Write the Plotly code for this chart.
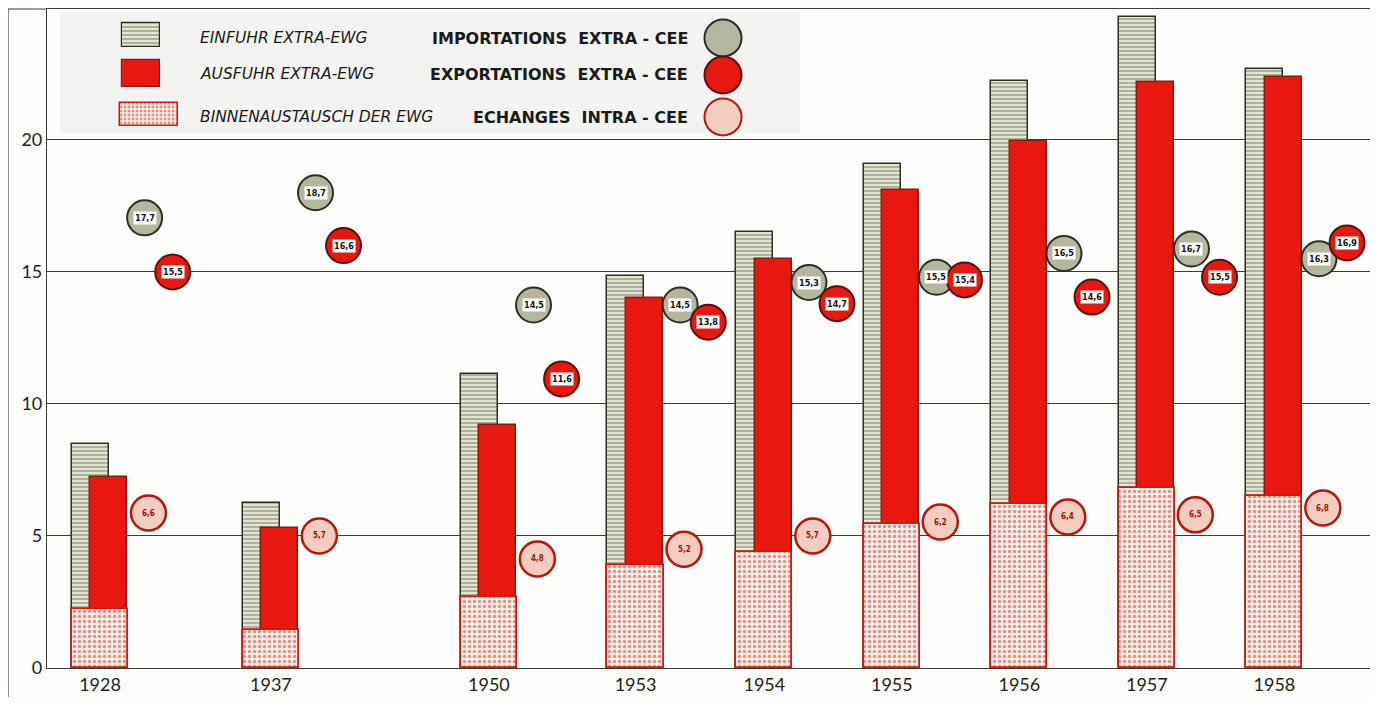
import plotly.graph_objects as go

# values (Mrd $ and % of world trade)
years = ["1928", "1937", "1950", "1953", "1954", "1955", "1956", "1957", "1958"]
imports_bn = [8.5, 6.25, 11.15, 14.85, 16.5, 19.1, 22.25, 24.65, 22.7]
exports_bn = [7.25, 5.3, 9.2, 14.0, 15.5, 18.1, 19.95, 22.2, 22.4]
intra_bn = [2.25, 1.45, 2.7, 3.9, 4.4, 5.45, 6.2, 6.8, 6.5]

imp_share = ["17,7", "18,7", "14,5", "14,5", "15,3", "15,5", "16,5", "16,7", "16,3"]
exp_share = ["15,5", "16,6", "11,6", "13,8", "14,7", "15,4", "14,6", "15,5", "16,9"]
intra_share = ["6,6", "5,7", "4,8", "5,2", "5,7", "6,2", "6,4", "6,5", "6,8"]

# where the share circles sit on the value axis
imp_circle = [17.05, 18.0, 13.75, 13.75, 14.6, 14.8, 15.7, 15.87, 15.5]
exp_circle = [15.0, 16.0, 10.95, 13.1, 13.8, 14.7, 14.05, 14.8, 16.1]
intra_circle = [5.87, 5.0, 4.13, 4.5, 5.0, 5.53, 5.72, 5.8, 6.06]

# uneven spacing of the year groups along the axis
slot = [0, 1.34, 3.05, 4.2, 5.21, 6.21, 7.21, 8.21, 9.21]

RED = "#e8170f"
DARK = "#2e2e22"
GRID = "#3d3d2c"
HATCH_BG = "#e4e6d2"
STIP_BG = "#fdf3ee"
STIP_DOT = "#d62a18"
LBL_FONT = "DejaVu Sans Condensed, DejaVu Sans"

fig = go.Figure()

# import bars (hatched), export bars (red), intra trade on top (stippled)
fig.add_trace(go.Bar(
    x=slot, y=imports_bn, width=0.29, offset=-0.22,
    marker=dict(color=HATCH_BG, line=dict(color=DARK, width=1.5),
                pattern=dict(shape="-", fgcolor=DARK, bgcolor=HATCH_BG, size=4, solidity=0.3)),
    showlegend=False, hoverinfo="skip"))
fig.add_trace(go.Bar(
    x=slot, y=exports_bn, width=0.29, offset=-0.075,
    marker=dict(color=RED, line=dict(color="#8a1a10", width=1.5)),
    showlegend=False, hoverinfo="skip"))
fig.add_trace(go.Bar(
    x=slot, y=intra_bn, width=0.44, offset=-0.22,
    marker=dict(color=STIP_BG, line=dict(color="#d4180e", width=1.8),
                pattern=dict(shape=".", fgcolor=STIP_DOT, bgcolor=STIP_BG, size=5, solidity=0.4)),
    showlegend=False, hoverinfo="skip"))

# share circles
fig.add_trace(go.Scatter(
    x=[s + 0.35 for s in slot], y=imp_circle, mode="markers",
    marker=dict(size=35, color="#b4b6a0", line=dict(color=DARK, width=2)),
    showlegend=False, hoverinfo="skip"))
fig.add_trace(go.Scatter(
    x=[s + 0.38 for s in slot], y=intra_circle, mode="markers",
    marker=dict(size=35, color="#f3cdbf", line=dict(color="#b5170d", width=2.5)),
    showlegend=False, hoverinfo="skip"))
fig.add_trace(go.Scatter(
    x=[s + 0.57 for s in slot], y=exp_circle, mode="markers",
    marker=dict(size=35, color=RED, line=dict(color="#5a120c", width=2)),
    showlegend=False, hoverinfo="skip"))

for i in range(len(years)):
    fig.add_annotation(x=slot[i] + 0.35, y=imp_circle[i], text="<b>" + imp_share[i] + "</b>",
                       showarrow=False, font=dict(family=LBL_FONT, size=9, color="#111"),
                       bgcolor="white", borderpad=1)
    fig.add_annotation(x=slot[i] + 0.57, y=exp_circle[i], text="<b>" + exp_share[i] + "</b>",
                       showarrow=False, font=dict(family=LBL_FONT, size=9, color="#111"),
                       bgcolor="white", borderpad=1)
    fig.add_annotation(x=slot[i] + 0.38, y=intra_circle[i], text="<b>" + intra_share[i] + "</b>",
                       showarrow=False, font=dict(family=LBL_FONT, size=8, color="#9a1208"))

# legend block, drawn on an overlay axis measured in page pixels
fig.add_shape(type="rect", xref="x2", yref="y2", x0=60, x1=800, y0=12, y1=133,
              fillcolor="#f3f3f1", line_width=0, layer="below")
fig.add_trace(go.Bar(
    x=[141], y=[24], base=[23], width=38, xaxis="x2", yaxis="y2",
    marker=dict(color=HATCH_BG, line=dict(color=DARK, width=1.2),
                pattern=dict(shape="-", fgcolor=DARK, bgcolor=HATCH_BG, size=4, solidity=0.3)),
    showlegend=False, hoverinfo="skip"))
fig.add_trace(go.Bar(
    x=[141], y=[27], base=[60], width=38, xaxis="x2", yaxis="y2",
    marker=dict(color=RED, line=dict(color="#8a1a10", width=1.2)),
    showlegend=False, hoverinfo="skip"))
fig.add_trace(go.Bar(
    x=[149], y=[23], base=[103], width=58, xaxis="x2", yaxis="y2",
    marker=dict(color=STIP_BG, line=dict(color="#d4180e", width=1.5),
                pattern=dict(shape=".", fgcolor=STIP_DOT, bgcolor=STIP_BG, size=4, solidity=0.45)),
    showlegend=False, hoverinfo="skip"))
fig.add_trace(go.Scatter(
    x=[723, 723, 723], y=[38, 75, 117], xaxis="x2", yaxis="y2", mode="markers",
    marker=dict(size=37, color=["#b4b6a0", RED, "#f3cdbf"],
                line=dict(color=[DARK, "#5a120c", "#b5170d"], width=2)),
    showlegend=False, hoverinfo="skip"))

legend_de = ["EINFUHR EXTRA-EWG", "AUSFUHR EXTRA-EWG", "BINNENAUSTAUSCH DER EWG"]
legend_fr = ["IMPORTATIONS  EXTRA - CEE", "EXPORTATIONS  EXTRA - CEE", "ECHANGES  INTRA - CEE"]
for row, yy in enumerate([38, 74, 117]):
    fig.add_annotation(x=198, y=yy, xref="x2", yref="y2", xanchor="left",
                       text="<i>" + legend_de[row] + "</i>", showarrow=False,
                       font=dict(family="DejaVu Sans", size=15.5, color="#1a1a1a"))
    fig.add_annotation(x=690, y=yy, xref="x2", yref="y2", xanchor="right",
                       text=legend_fr[row], showarrow=False,
                       font=dict(family="DejaVu Sans", size=16, color="#1a1a1a", weight=600))

# outer page frame line at the far left, joined to the top of the plot
fig.add_shape(type="line", xref="paper", yref="paper", x0=-39 / 1323, x1=-39 / 1323,
              y0=-29 / 659, y1=1.0, line=dict(color=GRID, width=1.2))
fig.add_shape(type="line", xref="paper", yref="paper", x0=-39 / 1323, x1=0, y0=1, y1=1,
              line=dict(color=GRID, width=1.2))

fig.update_layout(
    width=1362, height=689, autosize=False,
    margin=dict(l=39, r=0, t=1, b=29),
    paper_bgcolor="#fdfdfc", plot_bgcolor="#fdfdfc",
    barmode="overlay", bargap=0,
    font=dict(family="Lato, Open Sans", color="#222"),
    xaxis=dict(range=[-0.4157, 9.96], tickvals=slot, ticktext=years, showgrid=False,
               zeroline=False, showline=True, linecolor=GRID, linewidth=1.2, mirror=True,
               ticks="", tickfont=dict(size=18, color="#222"), fixedrange=True),
    yaxis=dict(range=[0, 24.96], tickvals=[0, 5, 10, 15, 20], showgrid=True, gridcolor=GRID,
               gridwidth=1.1, zeroline=True, zerolinecolor=GRID, zerolinewidth=1.2,
               showline=True, linecolor=GRID, linewidth=1.2, mirror=True, ticks="",
               tickfont=dict(size=18, color="#222"), fixedrange=True),
    xaxis2=dict(overlaying="x", range=[47, 1370], visible=False, fixedrange=True),
    yaxis2=dict(overlaying="y", range=[668, 9], visible=False, fixedrange=True),
)

fig.write_html("out.html")
